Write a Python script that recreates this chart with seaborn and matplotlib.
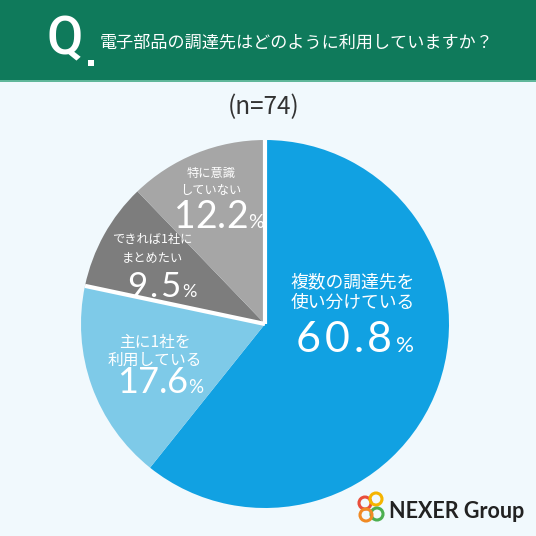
import numpy as np
import seaborn as sns
import matplotlib.pyplot as plt
from matplotlib.patches import Rectangle, Circle

sns.set_style("white")
plt.rcParams['font.family'] = ['Noto Sans CJK JP', 'DejaVu Sans']

# data
labels = [["複数の調達先を", "使い分けている"],
          ["主に1社を", "利用している"],
          ["できれば1社に", "まとめたい"],
          ["特に意識", "していない"]]
values = [60.8, 17.6, 9.5, 12.2]
colors = ["#11a1e2", "#7ecae8", "#7d7d7d", "#a6a6a6"]
title = "電子部品の調達先はどのように利用していますか？"
n_text = "(n=74)"

# label layout in pixels: x center, y of each line; number x range and baseline
label_x = [353, 155, 152, 211]
line_y = [(282, 303), (342, 360), (240, 258), (173, 190)]
num_box = [(293, 417, 352), (118, 202, 393), (127, 197, 297), (175, 262, 228)]
label_size = [12.8, 11.3, 8.8, 8.8]
num_size = [31, 26, 25, 27]

W = 536
fig = plt.figure(figsize=(5.36, 5.36), dpi=100)
fig.patch.set_facecolor("#f1f9fd")

def px(x, y):
    return x / W, 1 - y / W

# header
fig.patches.append(Rectangle((0, 1 - 80 / W), 1, 80 / W, transform=fig.transFigure,
                             facecolor="#0f7a5b", edgecolor="none", zorder=0))
fig.patches.append(Rectangle((0, 1 - 82 / W), 1, 2 / W, transform=fig.transFigure,
                             facecolor="#5fb79a", edgecolor="none", zorder=0))
fig.text(*px(65, 40), "Q", color="white", fontsize=38, fontweight="medium",
         va="center", ha="center", family="Roboto")
fig.patches.append(Rectangle(px(88, 66), 6 / W, 6 / W, transform=fig.transFigure,
                             facecolor="white", edgecolor="none"))
fig.text(*px(100, 43), title, color="white", fontsize=12.3, va="center", ha="left")

fig.text(*px(264, 107), n_text, color="#333333", fontsize=17.5, va="center", ha="center")

# pie
ax = fig.add_axes([81 / W, 28 / W, 368 / W, 368 / W])
ax.pie(values, colors=colors, startangle=90, counterclock=False,
       wedgeprops=dict(edgecolor="none", linewidth=0))
# white outline around the two grey slices
cum = np.cumsum(values) / sum(values)
for frac in [cum[1], cum[3]]:
    a = np.deg2rad(90 - 360 * frac)
    ax.plot([0, np.cos(a)], [0, np.sin(a)], color="white", lw=3,
            solid_capstyle="butt")
ax.set_xlim(-1, 1)
ax.set_ylim(-1, 1)
ax.set_aspect("equal")
ax.axis("off")

fig.canvas.draw()
r = fig.canvas.get_renderer()

def tracked(chars, sizes, x0, x1, base):
    # place characters one by one over x0..x1 with a little tracking
    items = []
    for ch, s in zip(chars, sizes):
        t = fig.text(0, 0, ch, color="white", fontsize=s, ha="left",
                     va="baseline", family="Lato")
        items.append((t, t.get_window_extent(r).width))
    total = sum(w for _, w in items)
    gap = min(max(0, (x1 - x0 - total) / (len(items) - 1)), sizes[0] * 0.12)
    x = (x0 + x1) / 2 - (total + gap * (len(items) - 1)) / 2
    for t, w in items:
        t.set_position(px(x, base))
        x += w + gap

for lines, v, x, ys, (nx0, nx1, nb), ls, ns in zip(labels, values, label_x, line_y,
                                                  num_box, label_size, num_size):
    for line, y in zip(lines, ys):
        fig.text(*px(x, y), line, color="white", fontsize=ls, ha="center", va="center")
    s = f"{v:.1f}"
    tracked(list(s) + ["%"], [ns] * len(s) + [ns * 0.52], nx0, nx1, nb)

# logo
for (cx, cy, c) in [(365, 503, "#e94e3c"), (376, 499, "#f5b400"),
                    (377, 514, "#4caf50"), (366, 515, "#f08a24")]:
    fig.patches.append(Circle(px(cx, cy), 6 / W, transform=fig.transFigure,
                              facecolor="none", edgecolor=c, linewidth=2.2))
fig.text(*px(389, 511), "NEXER Group", color="#222222", fontsize=15.5,
         fontweight="bold", va="center", ha="left", family="Lato")

fig.savefig("out.png", dpi=100, facecolor=fig.get_facecolor())
